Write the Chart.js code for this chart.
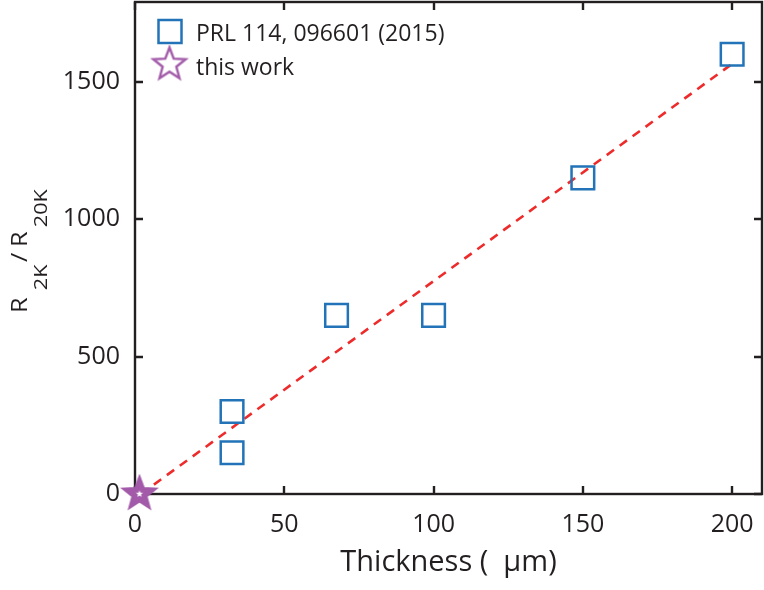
<!DOCTYPE html>
<html>
<head>
<meta charset="utf-8">
<script src="https://cdn.jsdelivr.net/npm/chart.js@4.4.0/dist/chart.umd.min.js"></script>
<style>
  html, body { margin: 0; padding: 0; background: #fff; }
  #wrap { width: 764px; height: 590px; }
</style>
</head>
<body>
<div id="wrap"><canvas id="chart" width="764" height="590"></canvas></div>
<script>
// values
var prlThickness = [32.5, 32.5, 67.5, 100, 150, 200];
var prlRatio = [150, 300, 650, 650, 1150, 1600];
var workThickness = [1.5];
var workRatio = [0];
var fitThickness = [2, 200];
var fitRatio = [0, 1565];
var xTicks = [0, 50, 100, 150, 200];
var yTicks = [0, 500, 1000, 1500];
var legendLabels = ['PRL 114, 096601 (2015)', 'this work'];

var INK = '#231f20';
var BLUE = '#2273b8';
var PURPLE = '#a25aa9';
var RED = '#ee2b2b';
var FONT = '"Open Sans", "Noto Sans", sans-serif';

// plot box inside the 764x590 canvas
var AREA = { left: 135, right: 762, top: 2, bottom: 494 };

function toPoints(xs, ys) {
  return xs.map(function (x, i) { return { x: x, y: ys[i] }; });
}

// 5 armed star as a point image (Chart.js 'star' is an asterisk)
function makeStar(filled) {
  var c = document.createElement('canvas');
  c.width = 40; c.height = 40;
  var g = c.getContext('2d');
  var R = 17, r = 7.2, cx = 20, cy = 20;
  function path(scale) {
    g.beginPath();
    for (var i = 0; i < 10; i++) {
      var a = -Math.PI / 2 + i * Math.PI / 5;
      var rad = (i % 2 ? r : R) * scale;
      g.lineTo(cx + rad * Math.cos(a), cy + rad * Math.sin(a));
    }
    g.closePath();
  }
  path(1);
  if (filled) {
    g.fillStyle = PURPLE;
    g.fill();
  }
  g.lineWidth = 2.4;
  g.strokeStyle = PURPLE;
  g.stroke();
  if (filled) {
    path(0.22);
    g.fillStyle = '#fff';
    g.fill();
  }
  return c;
}

var starFilled = makeStar(true);
var starOpen = makeStar(false);

// pin the plot box, Chart.js otherwise pads it for the edge labels
var pinPlugin = {
  id: 'pin',
  afterLayout: function (chart) {
    var a = chart.chartArea;
    a.left = AREA.left; a.right = AREA.right; a.top = AREA.top; a.bottom = AREA.bottom;
    a.width = a.right - a.left; a.height = a.bottom - a.top;
    var x = chart.scales.x, y = chart.scales.y;
    x.left = a.left; x.right = a.right; x.width = a.width;
    x.top = a.bottom; x.bottom = chart.height; x.height = x.bottom - x.top;
    y.left = 0; y.right = a.left; y.width = a.left;
    y.top = a.top; y.bottom = a.bottom; y.height = a.height;
    x.configure();
    y.configure();
  }
};

// frame with inward ticks on all four sides, legend, y title
var framePlugin = {
  id: 'frame',
  beforeDatasetsDraw: function (chart) {
    var ctx = chart.ctx;
    var a = chart.chartArea;
    var xs = chart.scales.x, ys = chart.scales.y;
    var tl = 8;
    ctx.save();
    ctx.strokeStyle = INK;
    ctx.lineWidth = 2.4;
    ctx.strokeRect(a.left, a.top, a.right - a.left, a.bottom - a.top);
    ctx.beginPath();
    xTicks.forEach(function (v) {
      var px = Math.round(xs.getPixelForValue(v));
      ctx.moveTo(px, a.bottom); ctx.lineTo(px, a.bottom - tl);
      ctx.moveTo(px, a.top); ctx.lineTo(px, a.top + tl);
    });
    yTicks.forEach(function (v) {
      var py = Math.round(ys.getPixelForValue(v));
      ctx.moveTo(a.left, py); ctx.lineTo(a.left + tl, py);
      ctx.moveTo(a.right, py); ctx.lineTo(a.right - tl, py);
    });
    ctx.stroke();
    ctx.restore();
  },
  afterDraw: function (chart) {
    var ctx = chart.ctx;
    ctx.save();

    // legend, inside the plot at top left
    ctx.strokeStyle = BLUE;
    ctx.lineWidth = 2.5;
    ctx.strokeRect(158.5, 20, 23, 23);
    ctx.drawImage(starOpen, 169.5 - 20, 64.5 - 20);
    ctx.fillStyle = INK;
    ctx.font = '23px ' + FONT;
    ctx.textAlign = 'left';
    ctx.textBaseline = 'alphabetic';
    ctx.fillText(legendLabels[0], 196, 41);
    ctx.fillText(legendLabels[1], 196, 75);

    // y title with subscripts, rotated and a bit stretched like the original
    ctx.translate(27, 313);
    ctx.rotate(-Math.PI / 2);
    ctx.scale(1.2, 1);
    var main = '21px ' + FONT, sub = '18px ' + FONT;
    ctx.font = main; ctx.fillText('R', 0, 0);
    ctx.font = sub; ctx.fillText('2K', 19, 20);
    ctx.font = main; ctx.fillText('/', 42.5, 0);
    ctx.font = main; ctx.fillText('R', 55, 0);
    ctx.font = sub; ctx.fillText('20K', 71.5, 20);
    ctx.restore();
  }
};

function plainTick(value) {
  return String(value);
}

new Chart(document.getElementById('chart'), {
  type: 'scatter',
  data: {
    datasets: [
      {
        label: legendLabels[1],
        data: toPoints(workThickness, workRatio),
        pointStyle: starFilled,
        clip: false
      },
      {
        label: legendLabels[0],
        data: toPoints(prlThickness, prlRatio),
        pointStyle: 'rect',
        pointRadius: 16,
        borderColor: BLUE,
        borderWidth: 2.5,
        backgroundColor: 'rgba(0,0,0,0)',
        clip: false
      },
      {
        label: 'fit',
        data: toPoints(fitThickness, fitRatio),
        showLine: true,
        borderColor: RED,
        borderWidth: 2.6,
        borderDash: [9, 7],
        pointRadius: 0
      }
    ]
  },
  options: {
    responsive: false,
    animation: false,
    plugins: {
      legend: { display: false },
      tooltip: { enabled: false }
    },
    scales: {
      x: {
        type: 'linear',
        min: 0,
        max: 210,
        afterBuildTicks: function (scale) {
          scale.ticks = xTicks.map(function (v) { return { value: v }; });
        },
        grid: { display: false, drawTicks: false },
        border: { display: false },
        ticks: {
          color: INK,
          font: { family: FONT, size: 25 },
          padding: 16,
          maxRotation: 0,
          callback: plainTick
        },
        title: {
          display: true,
          text: 'Thickness (  μm)',
          color: INK,
          font: { family: FONT, size: 29 },
          padding: { top: 0, bottom: 10 }
        }
      },
      y: {
        type: 'linear',
        min: 0,
        max: 1790,
        afterBuildTicks: function (scale) {
          scale.ticks = yTicks.map(function (v) { return { value: v }; });
        },
        grid: { display: false, drawTicks: false },
        border: { display: false },
        ticks: {
          color: INK,
          font: { family: FONT, size: 25 },
          padding: 15,
          callback: plainTick
        }
      }
    }
  },
  plugins: [pinPlugin, framePlugin]
});
</script>
</body>
</html>
